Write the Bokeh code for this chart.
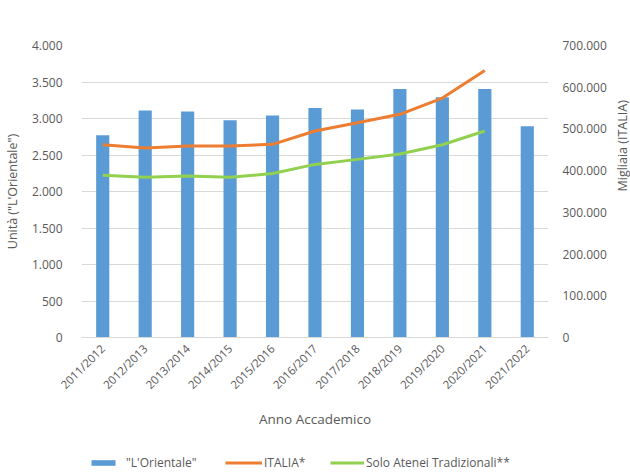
from math import pi
from bokeh.plotting import figure
from bokeh.layouts import column
from bokeh.models import (Range1d, LinearAxis, FactorRange, Legend, LegendItem,
                          CustomJSTickFormatter, FixedTicker)
from bokeh.embed import file_html
from bokeh.resources import INLINE

years = ["2011/2012", "2012/2013", "2013/2014", "2014/2015", "2015/2016", "2016/2017",
         "2017/2018", "2018/2019", "2019/2020", "2020/2021", "2021/2022"]
orientale = [2770, 3110, 3095, 2975, 3040, 3145, 3125, 3405, 3290, 3405, 2895]
italia_years = years[:10]
italia = [462000, 454000, 459000, 459000, 463000, 495000, 515000, 535000, 574000, 640000]
tradizionali = [389000, 384000, 387000, 384000, 393000, 415000, 427000, 440000, 462000, 495000]
left_ticks = [0, 500, 1000, 1500, 2000, 2500, 3000, 3500, 4000]
right_ticks = [0, 100000, 200000, 300000, 400000, 500000, 600000, 700000]

FONT = "Open Sans"
TXT = "#595959"
GRID = "#d9d9d9"
BLUE = "#5B9BD5"
ORANGE = "#ED7D31"
GREEN = "#92D050"

fmt = CustomJSTickFormatter(code="return Math.round(tick).toString().replace(/\\B(?=(\\d{3})+(?!\\d))/g, '.');")

p = figure(x_range=FactorRange(factors=years, range_padding=0), y_range=Range1d(0, 4000),
           frame_width=467, frame_height=292,
           min_border_left=81, min_border_right=82, min_border_top=45, min_border_bottom=93,
           output_backend="svg", toolbar_location=None)
p.outline_line_color = None
p.xgrid.grid_line_color = None
p.ygrid.grid_line_color = GRID
p.ygrid.ticker = FixedTicker(ticks=left_ticks)

ya = p.yaxis[0]
ya.ticker = FixedTicker(ticks=left_ticks)
ya.formatter = fmt
ya.axis_line_color = None
ya.major_tick_line_color = None
ya.minor_tick_line_color = None
ya.major_label_standoff = 13
ya.major_label_text_font = FONT
ya.major_label_text_font_size = "12px"
ya.major_label_text_color = TXT
ya.axis_label = "Unità (\"L'Orientale\")"
ya.axis_label_text_font = FONT
ya.axis_label_text_font_size = "12.5px"
ya.axis_label_text_font_style = "normal"
ya.axis_label_text_color = TXT
ya.axis_label_standoff = 8

xa = p.xaxis[0]
xa.axis_line_color = GRID
xa.major_tick_line_color = None
xa.minor_tick_line_color = None
xa.major_label_orientation = pi / 4
xa.major_label_text_font = FONT
xa.major_label_text_font_size = "11.5px"
xa.major_label_text_color = TXT
xa.major_label_standoff = 3
xa.axis_label = "Anno Accademico"
xa.axis_label_text_font = FONT
xa.axis_label_text_font_size = "13.5px"
xa.axis_label_text_font_style = "normal"
xa.axis_label_text_color = TXT
xa.axis_label_standoff = 10

p.extra_y_ranges = {"it": Range1d(0, 700000)}
ra = LinearAxis(y_range_name="it", ticker=FixedTicker(ticks=right_ticks), formatter=fmt)
ra.axis_line_color = None
ra.major_tick_line_color = None
ra.minor_tick_line_color = None
ra.major_label_standoff = 8
ra.major_label_text_font = FONT
ra.major_label_text_font_size = "12px"
ra.major_label_text_color = TXT
ra.axis_label = "Migliaia (ITALIA)"
ra.axis_label_text_font = FONT
ra.axis_label_text_font_size = "12.5px"
ra.axis_label_text_font_style = "normal"
ra.axis_label_text_color = TXT
ra.axis_label_standoff = 13
if "axis_label_orientation" in ra.properties():
    ra.axis_label_orientation = pi / 2
p.add_layout(ra, "right")

p.vbar(x=years, top=orientale, width=0.31, fill_color=BLUE, line_color=None)
p.line(x=italia_years, y=italia, y_range_name="it", line_color=ORANGE, line_width=3)
p.line(x=italia_years, y=tradizionali, y_range_name="it", line_color=GREEN, line_width=3)

# legend strip below the chart (its frame is aligned with the chart's frame);
# the series are drawn again on a y range where they fall well outside the view,
# only to give the legend its glyphs.
leg = figure(width=630, height=45, x_range=p.x_range, y_range=Range1d(1e7, 2e7),
             min_border=0, x_axis_type=None, y_axis_type=None,
             output_backend="svg", toolbar_location=None)
leg.outline_line_color = None
leg.grid.grid_line_color = None
r_bar = leg.vbar(x=years, top=orientale, width=0.31, fill_color=BLUE, line_color=None)
r_it = leg.line(x=italia_years, y=italia, line_color=ORANGE, line_width=3)
r_tr = leg.line(x=italia_years, y=tradizionali, line_color=GREEN, line_width=3)

def add_item(label, r, x, gw, standoff):
    lg = Legend(items=[LegendItem(label=label, renderers=[r])], location=(x, 5),
                orientation="horizontal", border_line_color=None, background_fill_alpha=0,
                padding=0, margin=0, glyph_width=gw, glyph_height=7, label_height=7,
                label_standoff=standoff, label_text_font=FONT, label_text_font_size="12px",
                label_text_color=TXT, label_text_baseline="middle")
    leg.add_layout(lg, "center")

add_item("\"L'Orientale\"", r_bar, 7, 30, 8)
add_item("ITALIA*", r_it, 144, 37, 2)
add_item("Solo Atenei Tradizionali**", r_tr, 249, 34, 2)

open("out.html", "w").write(file_html(column(p, leg, spacing=0), INLINE))
